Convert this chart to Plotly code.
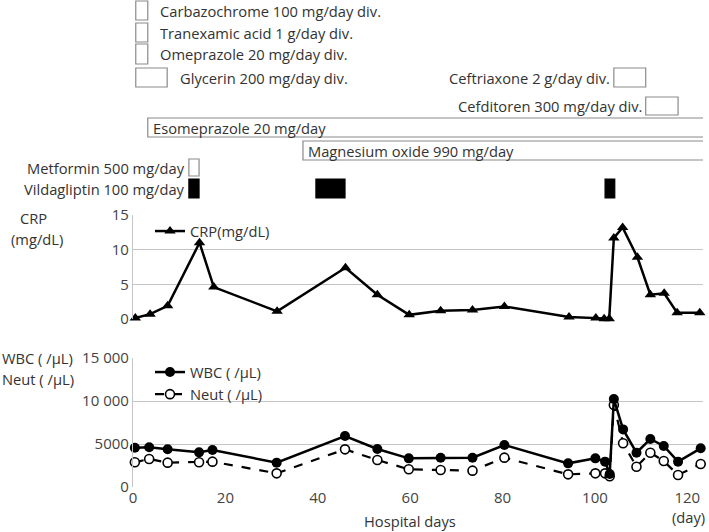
import plotly.graph_objects as go

# ---------------- data ----------------
crp_days = [0.5, 3.7, 7.5, 14.4, 17.5, 31.2, 46, 52.9, 59.8, 66.6, 73.5, 80.4, 94.4, 100.2, 102, 103.1, 104.1, 106, 109.2, 112, 115, 117.8, 122.7]
crp_vals = [0.15, 0.7, 1.9, 11.0, 4.6, 1.1, 7.4, 3.5, 0.6, 1.2, 1.3, 1.8, 0.3, 0.15, 0.05, 0.05, 11.7, 13.2, 8.9, 3.5, 3.7, 0.9, 0.9]

wbc_days = [0.4, 3.5, 7.5, 14.3, 17.2, 31.1, 45.9, 52.9, 59.7, 66.6, 73.5, 80.4, 94.2, 100.1, 102.2, 103.2, 104.1, 106.1, 109, 112, 114.9, 118, 122.9]
wbc_vals = [4570, 4620, 4380, 4030, 4300, 2830, 5930, 4420, 3330, 3410, 3410, 4880, 2750, 3330, 2950, 1510, 10230, 6700, 3990, 5580, 4770, 2950, 4500]

neut_days = [0.4, 3.5, 7.5, 14.3, 17.2, 31.1, 45.9, 52.9, 59.7, 66.6, 73.5, 80.4, 94.2, 100.1, 102.2, 103.2, 104.1, 106.1, 109, 112, 114.9, 118, 122.9]
neut_vals = [2870, 3260, 2830, 2870, 2950, 1590, 4380, 3140, 2060, 1980, 1900, 3410, 1470, 1590, 1590, 1250, 9540, 5080, 2360, 3990, 3020, 1400, 2680]

# medication periods (one entry per administration period)
med_names = ["Carbazochrome 100 mg/day div.", "Tranexamic acid 1 g/day div.", "Omeprazole 20 mg/day div.",
             "Glycerin 200 mg/day div.", "Ceftriaxone 2 g/day div.", "Cefditoren 300 mg/day div.",
             "Esomeprazole 20 mg/day", "Magnesium oxide 990 mg/day", "Metformin 500 mg/day",
             "Vildagliptin 100 mg/day", "Vildagliptin 100 mg/day", "Vildagliptin 100 mg/day"]
med_start = [0.6, 0.6, 0.6, 0.6, 104.1, 111.0, 3.2, 36.8, 12.1, 12.1, 39.6, 102.2]
med_end = [3.2, 3.2, 3.2, 7.4, 111.0, 118.0, 124.2, 123.8, 14.3, 14.3, 45.9, 104.3]

x_tick_vals = [0, 20, 40, 60, 80, 100, 120]
crp_tick_vals = [0, 5, 10, 15]
wbc_tick_vals = [0, 5000, 10000, 15000]
wbc_tick_text = ["0", "5000", "10 000", "15 000"]

# ---------------- layout helpers ----------------
W, H = 709, 532
ML, MR, MT, MB = 133, 6, 0, 45
PW, PH = W - ML - MR, H - MT - MB


def px(x):  # screen x -> paper
    return (x - ML) / PW


def py(y):  # screen y -> paper
    return (H - MB - y) / PH


FONT = "Open Sans"
TXT = "#333333"
GRID = "#c4c4c4"
LBL = 14.7

# lane layout for the medication panel (lane units = screen rows)
lane = {
    "Carbazochrome 100 mg/day div.": (10.5, 19, "right"),
    "Tranexamic acid 1 g/day div.": (32.5, 19, "right"),
    "Omeprazole 20 mg/day div.": (54, 20, "right"),
    "Glycerin 200 mg/day div.": (77.5, 19, "right"),
    "Ceftriaxone 2 g/day div.": (77.5, 19, "left"),
    "Cefditoren 300 mg/day div.": (106, 18, "left"),
    "Esomeprazole 20 mg/day": (127.5, 19, "inside"),
    "Magnesium oxide 990 mg/day": (150.5, 19, "inside"),
    "Metformin 500 mg/day": (167.5, 17, "left"),
    "Vildagliptin 100 mg/day": (188.5, 19, "left"),
}
filled = {"Vildagliptin 100 mg/day"}

fig = go.Figure()

annotations = []
labelled = set()
for name, s, e in zip(med_names, med_start, med_end):
    yc, wdt, where = lane[name]
    fig.add_trace(go.Bar(
        orientation="h", y=[yc], x=[e - s], base=[s], width=wdt,
        xaxis="x", yaxis="y3", showlegend=False, hoverinfo="skip",
        marker=dict(color="black" if name in filled else "white",
                    line=dict(color="black" if name in filled else "#8a8a8a", width=1.2)),
    ))
    if name in labelled:
        continue
    labelled.add(name)
    if where == "right":
        ax, anc = e + 2.3, "left"
    elif where == "left":
        ax, anc = s - 0.4, "right"
    else:
        ax, anc = s + 0.6, "left"
    annotations.append(dict(x=ax, y=yc, xref="x", yref="y3", text=name, showarrow=False,
                            xanchor=anc, yanchor="middle", font=dict(family=FONT, size=LBL, color=TXT)))

# Neut drawn first, WBC on top
fig.add_trace(go.Scatter(
    x=neut_days, y=neut_vals, name="Neut ( /μL)", mode="lines+markers", xaxis="x", yaxis="y",
    line=dict(color="black", width=2.2, dash="dash"),
    marker=dict(symbol="circle", size=9, color="white", line=dict(color="black", width=1.6)),
    legend="legend2", legendrank=2, cliponaxis=False,
))
fig.add_trace(go.Scatter(
    x=wbc_days, y=wbc_vals, name="WBC ( /μL)", mode="lines+markers", xaxis="x", yaxis="y",
    line=dict(color="black", width=2.5), marker=dict(symbol="circle", size=10, color="black"),
    legend="legend2", legendrank=1, cliponaxis=False,
))
# CRP
fig.add_trace(go.Scatter(
    x=crp_days, y=crp_vals, name="CRP(mg/dL)", mode="lines+markers", xaxis="x", yaxis="y2",
    line=dict(color="black", width=2.5), marker=dict(symbol="triangle-up", size=10, color="black"),
    legend="legend", cliponaxis=False,
))


def ann(x, y, text, xanchor="center", size=LBL):
    annotations.append(dict(x=px(x), y=py(y), xref="paper", yref="paper", text=text, showarrow=False,
                            xanchor=xanchor, yanchor="middle", font=dict(family=FONT, size=size, color=TXT)))


ann(34, 217.5, "CRP")
ann(37, 238.5, "(mg/dL)")
ann(0, 358, "WBC ( /μL)", "left")
ann(0, 379, "Neut ( /μL)", "left")
ann(410, 521, "Hospital days")
ann(688, 517, "(day)")

tickfont = dict(family=FONT, size=15, color="#444444")

fig.update_layout(
    width=W, height=H, margin=dict(l=ML, r=MR, t=MT, b=MB),
    paper_bgcolor="white", plot_bgcolor="white",
    barmode="overlay",
    annotations=annotations,
    xaxis=dict(range=[0, 123.4], tickvals=x_tick_vals, showgrid=False, zeroline=False,
               showline=False, ticks="", tickfont=tickfont, anchor="y", automargin=False),
    yaxis=dict(domain=[0, py(358)], range=[0, 15000], tickvals=wbc_tick_vals, ticktext=wbc_tick_text,
               showgrid=True, gridcolor=GRID, gridwidth=1.2, zeroline=False, showline=True,
               linecolor=GRID, linewidth=1.2, ticks="", tickfont=tickfont, anchor="x", automargin=False),
    yaxis2=dict(domain=[py(319), py(215)], range=[0, 15], tickvals=crp_tick_vals,
                showgrid=True, gridcolor=GRID, gridwidth=1.2, zeroline=False, showline=True,
                linecolor=GRID, linewidth=1.2, ticks="", tickfont=tickfont, anchor="x", automargin=False),
    yaxis3=dict(domain=[py(200), 1], range=[200, 0], visible=False, showticklabels=False,
                automargin=False, anchor="x"),
    legend=dict(x=px(150), y=py(215), xanchor="left", yanchor="top", bgcolor="rgba(0,0,0,0)",
                font=dict(family=FONT, size=LBL, color=TXT), itemwidth=30),
    legend2=dict(x=px(150), y=py(356), xanchor="left", yanchor="top", bgcolor="rgba(0,0,0,0)",
                 font=dict(family=FONT, size=LBL, color=TXT), itemwidth=30, tracegroupgap=0),
    showlegend=True,
)

# the page body has a default 8px margin; remove it so the figure fills the window exactly
fig.write_html("out.html", post_script="document.body.style.margin='0px';",
               config={"displayModeBar": False})
